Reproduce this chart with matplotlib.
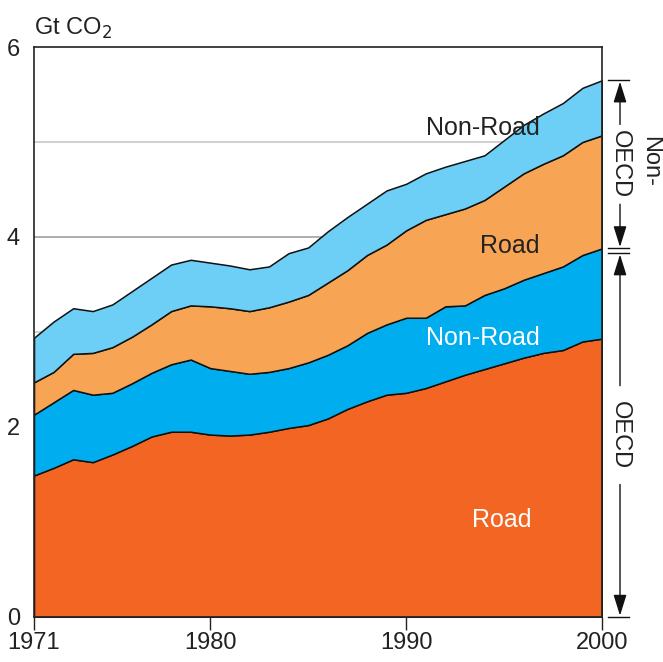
import numpy as np
import matplotlib
matplotlib.use("Agg")
import matplotlib.pyplot as plt
import matplotlib.transforms as mtransforms

plt.rcParams['font.family'] = ['Liberation Sans', 'DejaVu Sans']

# Transport CO2 emissions, Gt CO2, 1971-2000
years = list(range(1971, 2001))

oecd_road = [1.49, 1.57, 1.66, 1.63, 1.71, 1.80, 1.90, 1.95, 1.95, 1.92,
             1.91, 1.92, 1.95, 1.99, 2.02, 2.09, 2.19, 2.27, 2.34, 2.36,
             2.41, 2.48, 2.55, 2.61, 2.67, 2.73, 2.78, 2.81, 2.90, 2.93]
oecd_nonroad = [0.64, 0.69, 0.73, 0.71, 0.65, 0.66, 0.67, 0.71, 0.76, 0.70,
                0.68, 0.64, 0.63, 0.63, 0.66, 0.67, 0.67, 0.72, 0.74, 0.79,
                0.74, 0.79, 0.73, 0.78, 0.79, 0.82, 0.84, 0.88, 0.91, 0.95]
nonoecd_road = [0.34, 0.32, 0.38, 0.44, 0.48, 0.49, 0.51, 0.56, 0.57, 0.65,
                0.66, 0.66, 0.68, 0.70, 0.71, 0.76, 0.79, 0.82, 0.84, 0.92,
                1.03, 0.97, 1.02, 1.00, 1.07, 1.12, 1.15, 1.17, 1.19, 1.19]
nonoecd_nonroad = [0.47, 0.53, 0.48, 0.44, 0.45, 0.48, 0.49, 0.49, 0.48, 0.46,
                   0.45, 0.44, 0.43, 0.51, 0.50, 0.54, 0.56, 0.54, 0.57, 0.49,
                   0.49, 0.50, 0.50, 0.47, 0.49, 0.51, 0.53, 0.55, 0.57, 0.58]

colors = ['#F26522', '#00AEEF', '#F7A555', '#6DCFF6']

fig = plt.figure(figsize=(6.63, 6.62), dpi=100)
ax = fig.add_axes([0.0513, 0.068, 0.8567, 0.861])

# background grid lines
for lvl, col in [(1, '#cccccc'), (2, '#cccccc'), (3, '#cccccc'), (4, '#a8a8a8'), (5, '#cccccc')]:
    ax.axhline(lvl, color=col, lw=1.3, zorder=0)

ax.stackplot(years, oecd_road, oecd_nonroad, nonoecd_road, nonoecd_nonroad,
             colors=colors, edgecolor='#111111', linewidth=1.1, zorder=2)

ax.set_xlim(1971, 2000)
ax.set_ylim(0, 6)
ax.set_xticks([1971, 1980, 1990, 2000])
ax.set_yticks([0, 2, 4, 6])
ax.tick_params(axis='x', direction='out', length=9, width=1, labelsize=17, pad=2, colors='#222222')
ax.tick_params(axis='y', length=0, labelsize=17, pad=10, colors='#222222')
for s in ax.spines.values():
    s.set_linewidth(1.2)
    s.set_color('#222222')
    s.set_zorder(5)

ax.text(0.0, 1.01, 'Gt CO$_2$', transform=ax.transAxes, fontsize=17,
        ha='left', va='bottom', color='#222222')

# area labels
ax.text(1994.9, 1.02, 'Road', color='white', fontsize=18, ha='center', va='center', zorder=4)
ax.text(1993.9, 2.94, 'Non-Road', color='white', fontsize=18, ha='center', va='center', zorder=4)
ax.text(1995.3, 3.91, 'Road', color='#222222', fontsize=18, ha='center', va='center', zorder=4)
ax.text(1993.9, 5.15, 'Non-Road', color='#222222', fontsize=18, ha='center', va='center', zorder=4)

# right-side brackets: x in axes fraction, y in data
trans = mtransforms.blended_transform_factory(ax.transAxes, ax.transData)
total_2000 = oecd_road[-1] + oecd_nonroad[-1] + nonoecd_road[-1] + nonoecd_nonroad[-1]
oecd_2000 = oecd_road[-1] + oecd_nonroad[-1]
xl = 1.0317
xa, xb = 1.0106, 1.0475

def bracket(y0, y1, label, gap):
    for yy in (y0, y1):
        ax.plot([xa, xb], [yy, yy], transform=trans, color='#111111', lw=1, clip_on=False)
    ym = (y0 + y1) / 2
    for tip, start in ((y1, ym + gap), (y0, ym - gap)):
        ax.annotate('', xy=(xl, tip), xytext=(xl, start), xycoords=trans, textcoords=trans,
                    arrowprops=dict(arrowstyle='-|>,head_length=0.8,head_width=0.25',
                                    color='#111111', lw=1, mutation_scale=16,
                                    shrinkA=0, shrinkB=1))
    ax.text(xl, ym, label, transform=trans, rotation=-90, ha='center', va='center',
            fontsize=17, color='#222222')

bracket(0.0, oecd_2000 - 0.05, 'OECD', 0.52)
bracket(oecd_2000, total_2000, 'OECD', 0.42)
ax.text(1.0845, 4.8, 'Non-', transform=trans, rotation=-90, ha='center', va='center',
        fontsize=17, color='#222222')

fig.savefig('out.png', dpi=100)
